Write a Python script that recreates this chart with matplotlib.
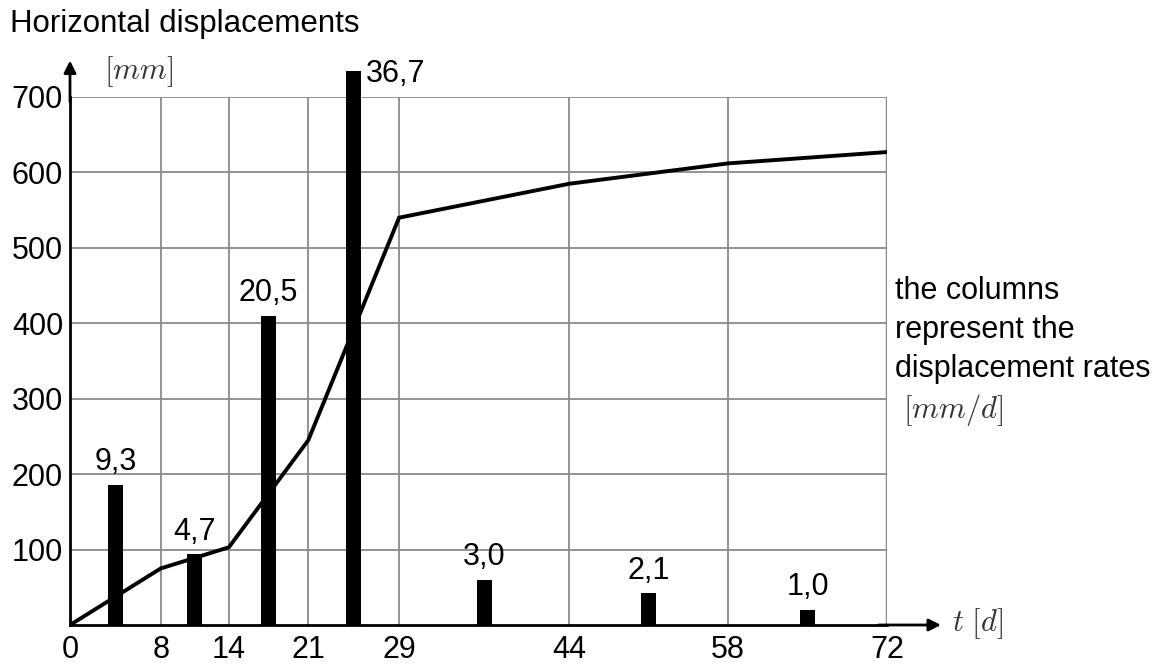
import numpy as np
import matplotlib.pyplot as plt

plt.rcParams['font.family'] = ['Liberation Sans', 'DejaVu Sans']
plt.rcParams['mathtext.fontset'] = 'cm'

# cumulative horizontal displacement [mm] at survey days
days = [0, 8, 14, 21, 29, 44, 58, 72]
disp = [0, 75, 103, 245, 540, 585, 612, 627]

# displacement rate [mm/d] for each interval (columns drawn at interval mid)
rate_days = [4, 11, 17.5, 25, 36.5, 51, 65]
rates = [9.3, 4.7, 20.5, 36.7, 3.0, 2.1, 1.0]
rate_labels = ['9,3', '4,7', '20,5', '36,7', '3,0', '2,1', '1,0']
scale = 20  # column height = rate * 20 on the mm axis

yticks = [100, 200, 300, 400, 500, 600, 700]

fig = plt.figure(figsize=(11.75, 6.66), dpi=100)
ax = fig.add_axes([70/1175, 41/666, 817/1175, 528/666])
ax.set_xlim(0, 72)
ax.set_ylim(0, 700)

grid_c = '#8a8a8a'
for x in days[1:-1]:
    ax.axvline(x, color=grid_c, lw=1.3, zorder=1)
ax.axvline(72, color=grid_c, lw=2.5, zorder=1)
for y in yticks:
    ax.axhline(y, color=grid_c, lw=1.3, zorder=1)

bars = ax.bar(rate_days, np.array(rates) * scale, width=1.3, color='black',
              zorder=3)
for b in bars:
    b.set_clip_on(False)
ax.plot(days, disp, color='black', lw=2.8, zorder=4, solid_joinstyle='miter')

fs = 22
for xd, r, lab in zip(rate_days, rates, rate_labels):
    h = r * scale
    if lab == '36,7':
        ax.text(xd + 1.1, h - 4, lab, fontsize=fs, ha='left', va='center')
    else:
        ax.text(xd, h + 10, lab, fontsize=fs, ha='center', va='bottom')

for s in ['top', 'right']:
    ax.spines[s].set_visible(False)
ax.spines['left'].set_linewidth(2)
ax.spines['bottom'].set_linewidth(2)
ax.tick_params(axis='x', length=0, labelsize=fs, pad=7)
ax.tick_params(axis='y', length=0, labelsize=fs, pad=5)
ax.set_xticks(days)
ax.set_xticklabels([str(d) for d in days])
ax.set_yticks([0] + yticks)
ax.set_yticklabels([''] + [str(y) for y in yticks])

# axis arrows
ax.annotate('', xy=(0, 752), xytext=(0, 690), xycoords='data',
            arrowprops=dict(arrowstyle='-|>', color='black', lw=2,
                            mutation_scale=18), annotation_clip=False)
ax.annotate('', xy=(77, 0), xytext=(71, 0), xycoords='data',
            arrowprops=dict(arrowstyle='-|>', color='black', lw=2,
                            mutation_scale=18), annotation_clip=False)

fig.text(10/1175, 1 - 24/666, 'Horizontal displacements', fontsize=fs + 0.5,
         va='center', ha='left')
fig.text(104/1175, 1 - 72/666, r'$[mm]$', fontsize=fs, va='center',
         ha='left', color='#333333')
fig.text(952/1175, 1 - 624/666, r'$t\ [d]$', fontsize=fs, va='center',
         ha='left', color='#333333')
fig.text(895/1175, 1 - 330/666,
         'the columns\nrepresent the\ndisplacement rates',
         fontsize=fs, va='center', ha='left', linespacing=1.4)
fig.text(903/1175, 1 - 410/666, r'$[mm/d]$', fontsize=fs, va='center',
         ha='left', color='#333333')

fig.savefig('out.png', dpi=100)
